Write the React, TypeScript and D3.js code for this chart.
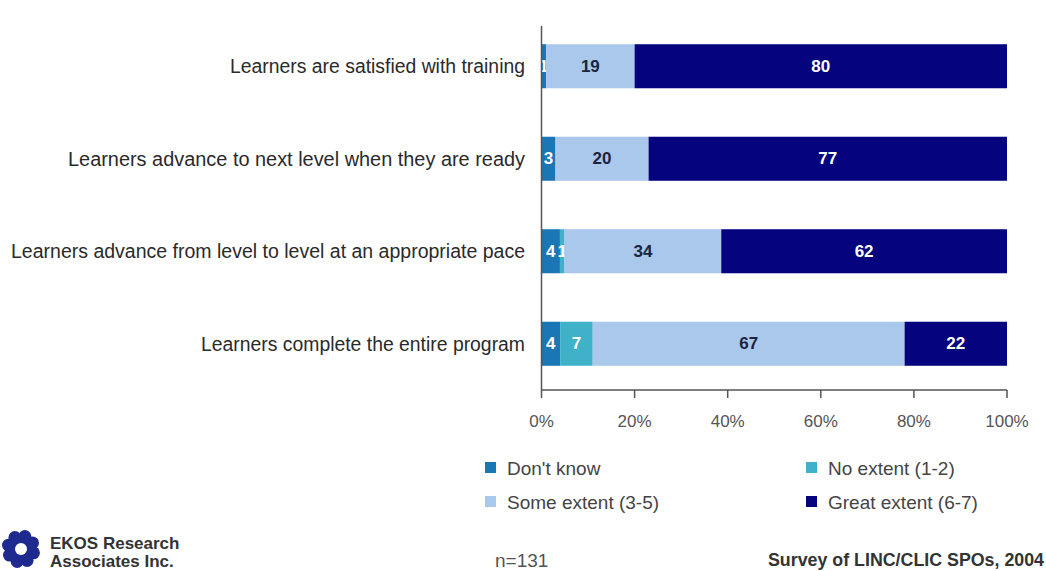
import React from "react";
import * as d3 from "d3";

const categories = [
  "Learners are satisfied with training",
  "Learners advance to next level when they are ready",
  "Learners advance from level to level at an appropriate pace",
  "Learners complete the entire program",
];
const seriesKeys = ["Don't know", "No extent (1-2)", "Some extent (3-5)", "Great extent (6-7)"];
const dontKnow = [1, 3, 4, 4];
const noExtent = [0, 0, 1, 7];
const someExtent = [19, 20, 34, 67];
const greatExtent = [80, 77, 62, 22];
const tickValues = [0, 0.2, 0.4, 0.6, 0.8, 1];
const colors = ["#1b76b6", "#3fb2c9", "#a9c8ec", "#06037f"];
const labelColors = ["#ffffff", "#ffffff", "#1c2340", "#ffffff"];
const labelWidths = [295, 457, 514, 324];

const W = 1046;
const H = 571;
const X0 = 541.5;
const X1 = 1007;

export default function App() {
  const rows = categories.map((c, i) => ({
    cat: c,
    [seriesKeys[0]]: dontKnow[i],
    [seriesKeys[1]]: noExtent[i],
    [seriesKeys[2]]: someExtent[i],
    [seriesKeys[3]]: greatExtent[i],
  }));
  const stack = d3.stack<any>().keys(seriesKeys).offset(d3.stackOffsetExpand);
  const layers = stack(rows);
  const x = d3.scaleLinear().domain([0, 1]).range([X0, X1]);
  const y = d3
    .scaleBand<string>()
    .domain(categories)
    .range([20, 390])
    .paddingInner(0.524)
    .paddingOuter(0.262);
  const font = "'Liberation Sans', Arial, sans-serif";
  const axisY = 390;

  const legendItems = [
    { key: seriesKeys[0], color: colors[0], x: 485, y: 468 },
    { key: seriesKeys[1], color: colors[1], x: 806, y: 468 },
    { key: seriesKeys[2], color: colors[2], x: 485, y: 502 },
    { key: seriesKeys[3], color: colors[3], x: 806, y: 502 },
  ];

  const blobs = d3.range(8).map((k) => {
    const a = (k / 8) * Math.PI * 2 + 0.3;
    return { cx: 21 + Math.cos(a) * 13, cy: 549 + Math.sin(a) * 13 };
  });

  return (
    <svg width={W} height={H} style={{ position: "absolute", left: 0, top: 0, background: "#fff" }}>
      <rect x={0} y={0} width={W} height={H} fill="#ffffff" />
      {categories.map((c, i) => (
        <text
          key={c}
          x={525}
          y={(y(c) as number) + y.bandwidth() / 2}
          textAnchor="end"
          dominantBaseline="central"
          fontFamily={font}
          fontSize={19.5}
          fill="#2a2a2a"
          textLength={labelWidths[i]}
          lengthAdjust="spacingAndGlyphs"
        >
          {c}
        </text>
      ))}
      {layers.map((layer, li) => (
        <g key={layer.key}>
          {layer.map((d, i) => {
            const v = rows[i][layer.key as string] as number;
            if (!v) return null;
            const bx = x(d[0]);
            const bw = x(d[1]) - x(d[0]);
            const by = y(categories[i]) as number;
            return (
              <g key={i}>
                <rect x={bx} y={by} width={bw} height={y.bandwidth()} fill={colors[li]} />
                <text
                  x={bx + bw / 2}
                  y={by + y.bandwidth() / 2}
                  textAnchor="middle"
                  dominantBaseline="central"
                  fontFamily={font}
                  fontWeight="bold"
                  fontSize={17}
                  fill={labelColors[li]}
                >
                  {v}
                </text>
              </g>
            );
          })}
        </g>
      ))}
      <line x1={X0} x2={X0} y1={26} y2={axisY} stroke="#555" strokeWidth={1.5} />
      <line x1={X0} x2={X1} y1={axisY} y2={axisY} stroke="#555" strokeWidth={1.5} />
      {tickValues.map((t) => (
        <g key={t}>
          <line x1={x(t)} x2={x(t)} y1={axisY} y2={axisY + 8} stroke="#555" strokeWidth={1.5} />
          <text
            x={x(t)}
            y={421}
            textAnchor="middle"
            dominantBaseline="central"
            fontFamily={font}
            fontSize={17}
            fill="#555"
          >
            {d3.format(".0%")(t)}
          </text>
        </g>
      ))}
      {legendItems.map((l) => (
        <g key={l.key}>
          <rect x={l.x} y={l.y - 6} width={11} height={11} fill={l.color} />
          <text
            x={l.x + 22}
            y={l.y}
            dominantBaseline="central"
            fontFamily={font}
            fontSize={19}
            fill="#444"
          >
            {l.key}
          </text>
        </g>
      ))}
      <text x={495} y={560} dominantBaseline="central" fontFamily={font} fontSize={19} fill="#555">
        n=131
      </text>
      <text
        x={768}
        y={560}
        dominantBaseline="central"
        fontFamily={font}
        fontSize={17.5}
        fontWeight="bold"
        fill="#333"
        textLength={276}
        lengthAdjust="spacingAndGlyphs"
      >
        Survey of LINC/CLIC SPOs, 2004
      </text>
      <g>
        {blobs.map((b, k) => (
          <circle key={k} cx={b.cx} cy={b.cy} r={6.5} fill="#1f2a8f" />
        ))}
        <circle cx={21} cy={549} r={13} fill="#1f2a8f" />
        <circle cx={21} cy={549} r={6} fill="#fff" />
        <text x={50} y={543} fontFamily={font} fontSize={17} fontWeight="bold" fill="#333" dominantBaseline="central">
          EKOS Research
        </text>
        <text x={50} y={561} fontFamily={font} fontSize={17} fontWeight="bold" fill="#333" dominantBaseline="central">
          Associates Inc.
        </text>
      </g>
    </svg>
  );
}
